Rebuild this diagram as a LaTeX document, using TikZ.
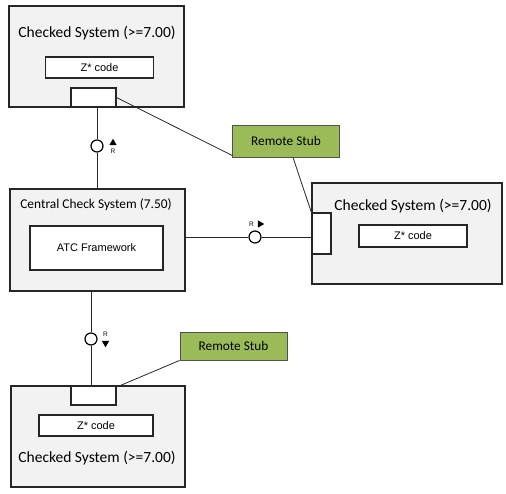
\documentclass[tikz,border=0pt]{standalone}
\usepackage{fontspec}
\setmainfont{Carlito}
\newfontfamily\arialfont{Liberation Sans}
\usetikzlibrary{shapes.geometric}
\definecolor{boxgray}{HTML}{F2F2F2}
\definecolor{stubgreen}{HTML}{9BBB59}
\definecolor{edgedark}{HTML}{262626}
\begin{document}
\begin{tikzpicture}
            [
                x = 1pt, y = 1pt,
                system/.style = {draw=edgedark, line width=1.3pt, fill=boxgray, inner sep=0pt},
                inner/.style = {draw=edgedark, line width=1.2pt, fill=white, inner sep=0pt, font=\arialfont\fontsize{11}{13}\selectfont},
                port/.style = {draw=edgedark, line width=1.2pt, fill=white, inner sep=0pt},
                stub/.style = {draw=edgedark!80, line width=0.9pt, fill=stubgreen, inner sep=0pt, minimum width=107pt, font=\fontsize{13.3}{15}\selectfont},
                title/.style = {inner sep=0pt, font=\fontsize{15.5}{18}\selectfont},
                iface/.style = {draw=black, line width=1.2pt, fill=white, circle, inner sep=0pt, minimum size=12pt},
                dir/.style = {regular polygon, regular polygon sides=3, fill=black, inner sep=0pt, minimum size=8.5pt},
                rlabel/.style = {inner sep=0pt, font=\arialfont\fontsize{6.5}{7}\selectfont},
                link/.style = {draw=edgedark, line width=0.8pt}
            ]
            \useasboundingbox (0, 0) rectangle (506, -494);
            \node[system, minimum width=175pt, minimum height=101pt] (top) at (96.5, -56.5) {};
            \node[title] (toptitle) at (97, -33) {Checked System (>=7.00)};
            \node[inner, minimum width=108pt, minimum height=21pt] (topcode) at (99.5, -67.5) {Z* code};
            \node[port, minimum width=45pt, minimum height=19pt] (topport) at (93.5, -97.5) {};
            \node[system, minimum width=175pt, minimum height=102pt] (central) at (97.5, -240) {};
            \node[title, font=\fontsize{13.4}{16}\selectfont] (centraltitle) at (96, -205) {Central Check System (7.50)};
            \node[inner, minimum width=133pt, minimum height=44pt] (atc) at (96.5, -248) {ATC Framework};
            \node[system, minimum width=190pt, minimum height=101pt] (right) at (407, -233.5) {};
            \node[title] (righttitle) at (413, -206) {Checked System (>=7.00)};
            \node[inner, minimum width=108pt, minimum height=22pt] (rightcode) at (413, -236) {Z* code};
            \node[port, minimum width=19pt, minimum height=41pt] (rightport) at (321.5, -233.5) {};
            \node[system, minimum width=174pt, minimum height=101pt] (bottom) at (98, -436.5) {};
            \node[title] (bottomtitle) at (97, -458) {Checked System (>=7.00)};
            \node[inner, minimum width=114pt, minimum height=21pt] (bottomcode) at (96, -425.5) {Z* code};
            \node[port, minimum width=45pt, minimum height=19pt] (bottomport) at (93.5, -395.5) {};
            \node[stub, minimum height=32pt] (stubA) at (286, -141) {Remote Stub};
            \node[stub, minimum height=28pt] (stubB) at (233.5, -346) {Remote Stub};
            \node[iface] (ifA) at (97, -146) {};
            \node[iface] (ifB) at (255, -237) {};
            \node[iface] (ifC) at (91, -339) {};
            \node[dir] (dirA) at (113, -143) {};
            \node[rlabel] (rA) at (113, -151.5) {R};
            \node[dir, rotate=-90] (dirB) at (260, -224) {};
            \node[rlabel] (rB) at (251.5, -224) {R};
            \node[dir, rotate=180] (dirC) at (105.5, -343) {};
            \node[rlabel] (rC) at (105.5, -334.5) {R};
            \draw[link] (ifA |- top.south) -- (ifA);
            \draw[link] (ifA) -- (ifA |- central.north);
            \draw[link] (ifB -| central.east) -- (ifB);
            \draw[link] (ifB) -- (ifB -| rightport.west);
            \draw[link] (ifC |- central.south) -- (ifC);
            \draw[link] (ifC) -- (ifC |- bottom.north);
            \draw[link] (topport.east) -- (stubA.195);
            \draw[link] ([xshift=7pt]stubA.south) -- (rightport.north west);
            \draw[link] (stubB.south west) -- ([xshift=4pt]bottomport.north east);
        \end{tikzpicture}
\end{document}
